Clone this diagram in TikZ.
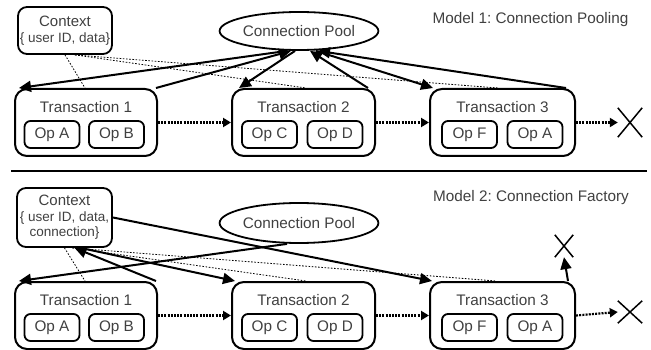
\documentclass[tikz,border=0pt]{standalone}
\usepackage{fontspec}
\setmainfont{Liberation Sans}
\usetikzlibrary{arrows.meta,shapes.geometric,calc}
\begin{document}
\frenchspacing
\begin{tikzpicture}[x=1pt,y=-1pt,
  txt/.style={text=black!75, font=\fontsize{15.3}{18}\selectfont},
  tbox/.style={draw, line width=2pt, rounded corners=12pt, minimum height=67pt, inner sep=0pt},
  opbox/.style={draw, line width=1.8pt, rounded corners=6pt, minimum width=55pt, minimum height=27pt, inner sep=0pt, txt},
  ctxbox/.style={draw, line width=1.8pt, rounded corners=9pt, minimum width=94pt, inner sep=0pt, align=center, text=black!75, font=\fontsize{13.5}{15.5}\selectfont},
  pool/.style={draw, ellipse, line width=1.8pt, minimum width=142pt, inner sep=0pt, txt},
  xmark/.style={inner sep=0pt},
  xline/.style={line width=1.5pt},
  conn/.style={line width=2pt, -{Triangle[length=12pt,width=11pt]}},
  chain/.style={line width=2.2pt, dash pattern=on 2pt off 1.2pt, -{Triangle[length=8pt,width=9pt]}},
  ctxline/.style={line width=0.8pt, dash pattern=on 1.6pt off 1.6pt},
  sep/.style={line width=2.6pt}
]
\useasboundingbox (0,0) rectangle (651,350);

% ---------------- Model 1 ----------------
\node[ctxbox, minimum height=47pt] (ctx1) at (65,30.5) {{\fontsize{15}{18}\selectfont Context}\\\{ user ID, data\}};
\node[pool, minimum height=38pt] (pool1) at (299,31) {Connection Pool};
\node[txt] (m1) at (530.5,20) {Model 1: Connection Pooling};

\node[tbox, minimum width=142pt] (t1) at (86,122.5) {};
\node[tbox, minimum width=143pt] (t2) at (303.5,122.5) {};
\node[tbox, minimum width=145pt] (t3) at (502.5,122.5) {};
\node[txt] (t1t) at (86,107) {Transaction 1};
\node[txt] (t2t) at (303.5,107) {Transaction 2};
\node[txt] (t3t) at (502.5,107) {Transaction 3};
\node[opbox] (o1a) at (52,134.5) {Op A};
\node[opbox] (o1b) at (116.5,134.5) {Op B};
\node[opbox] (o2c) at (269.5,134.5) {Op C};
\node[opbox] (o2d) at (335,134.5) {Op D};
\node[opbox] (o3f) at (469.5,134.5) {Op F};
\node[opbox] (o3a) at (535,134.5) {Op A};

\node[xmark, minimum width=24pt, minimum height=29pt] (x1) at (630,122.5) {};
\draw[xline] (x1.north west) -- (x1.south east) (x1.north east) -- (x1.south west);

\draw[chain] (t1.east) -- (t2.west);
\draw[chain] (t2.east) -- (t3.west);
\draw[chain] (t3.east) -- (x1.west);

\draw[ctxline] (ctx1.south) -- ([xshift=71pt]t1.north west);
\draw[ctxline] ([xshift=10pt]ctx1.south) -- ([xshift=-70pt]t2.north east);
\draw[ctxline] ([xshift=10pt]ctx1.south) -- ([xshift=-78pt]t3.north east);

\draw[conn] ([xshift=-12pt]pool1.south) -- ([xshift=5pt]t1.north west);
\draw[conn] ([xshift=-2pt]t1.north east) -- ([xshift=-8pt]pool1.south);
\draw[conn] ([xshift=-4pt]pool1.south) -- ([xshift=8pt]t2.north west);
\draw[conn] ([xshift=-8pt]t2.north east) -- ([xshift=11pt]pool1.south);
\draw[conn] ([xshift=17pt]pool1.south) -- ([xshift=4pt]t3.north west);
\draw[conn] ([xshift=-10pt]t3.north east) -- ([xshift=19pt]pool1.south);

% separator
\coordinate (sepL) at (11,171);
\coordinate (sepR) at (647,171);
\draw[sep] (sepL) -- (sepR);

% ---------------- Model 2 ----------------
\node[ctxbox, minimum height=59pt, minimum width=95pt] (ctx2) at (64.5,217.5) {{\fontsize{15}{18}\selectfont Context}\\\{ user ID, data,\\connection\}};
\node[pool, minimum height=40pt] (pool2) at (299,223) {Connection Pool};
\node[txt] (m2) at (531,198) {Model 2: Connection Factory};

\node[tbox, minimum width=142pt] (t1b) at (86,315.5) {};
\node[tbox, minimum width=143pt] (t2b) at (303.5,315.5) {};
\node[tbox, minimum width=145pt] (t3b) at (502.5,315.5) {};
\node[txt] (t1bt) at (86,300) {Transaction 1};
\node[txt] (t2bt) at (303.5,300) {Transaction 2};
\node[txt] (t3bt) at (502.5,300) {Transaction 3};
\node[opbox] (p1a) at (52,327.5) {Op A};
\node[opbox] (p1b) at (116.5,327.5) {Op B};
\node[opbox] (p2c) at (269.5,327.5) {Op C};
\node[opbox] (p2d) at (335,327.5) {Op D};
\node[opbox] (p3f) at (469.5,327.5) {Op F};
\node[opbox] (p3a) at (535,327.5) {Op A};

\node[xmark, minimum width=24pt, minimum height=22pt] (x2) at (630,312) {};
\draw[xline] (x2.north west) -- (x2.south east) (x2.north east) -- (x2.south west);
\node[xmark, minimum width=18pt, minimum height=22pt] (x3) at (564,246) {};
\draw[xline] (x3.north west) -- (x3.south east) (x3.north east) -- (x3.south west);

\draw[chain] (t1b.east) -- (t2b.west);
\draw[chain] (t2b.east) -- (t3b.west);
\draw[chain] (t3b.east) -- (x2.west);

\draw[ctxline] (ctx2.south) -- ([xshift=71pt]t1b.north west);
\draw[ctxline] ([xshift=8pt]ctx2.south) -- ([xshift=-70pt]t2b.north east);
\draw[ctxline] ([xshift=8pt]ctx2.south) -- ([xshift=-80pt]t3b.north east);

\draw[conn] ([xshift=-12pt]pool2.south) -- ([xshift=5pt]t1b.north west);
\draw[conn] ([xshift=-2pt]t1b.north east) -- ([xshift=10pt]ctx2.south);
\draw[conn] ([xshift=16pt]ctx2.south) -- ([xshift=4pt]t2b.north west);
\draw[conn] (ctx2.east) -- ([xshift=3pt]t3b.north west);
\draw[conn] ([xshift=-8pt]t3b.north east) -- (x3.south);
\end{tikzpicture}
\end{document}
